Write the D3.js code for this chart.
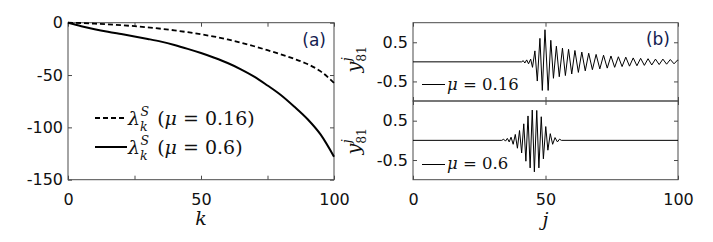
<!DOCTYPE html>
<html>
<head>
<meta charset="utf-8">
<script src="https://cdn.jsdelivr.net/npm/d3@7"></script>
<style>
body { margin: 0; background: #fff; }
svg text { white-space: pre; }
.tick text { font-family: "DejaVu Sans"; font-size: 16px; fill: #111; }
.math text { font-family: "DejaVu Serif"; fill: #111; }
</style>
</head>
<body>
<svg id="fig" width="713" height="242"></svg>
<script>
// panel (a): lambda_k^S against k
var kVals = [0, 5, 10, 15, 20, 25, 30, 35, 40, 45, 50, 55, 60, 65, 70, 75, 80, 85, 90, 95, 100];
var lamMu016 = [0, -0.3, -0.9, -1.6, -2.4, -3.3, -4.5, -5.8, -7.3, -9.1, -11.1, -13.3, -16.0, -19.1, -22.5, -26.3, -30.2, -34.5, -39.5, -46.5, -57.5];
var lamMu06 = [0, -3.3, -6.2, -8.7, -10.9, -13.1, -15.5, -18.1, -21.3, -25, -29, -33.5, -38.5, -44.5, -51.5, -60, -69, -80, -92, -107, -128];

// panel (b): y_81^j against j, zig-zag vertices
var jMu016 = [0, 41, 41.6, 42.2, 42.9, 43.6, 44.4, 45.1, 46.0, 46.9, 47.9, 48.8, 49.8, 51.0, 52.0, 53.0, 54.1, 55.2, 56.4, 57.5, 58.7, 59.9, 61.1, 62.4, 63.7, 65.0, 66.3, 67.7, 69.1, 70.5, 71.9, 73.3, 74.7, 76.1, 77.5, 78.9, 80.3, 81.7, 83.1, 84.5, 85.9, 87.3, 88.7, 90.1, 91.5, 92.9, 94.3, 95.7, 97.1, 98.5, 99.9, 100];
var yMu016 = [0, 0, 0.03, -0.03, 0.05, -0.05, 0.07, -0.14, 0.28, -0.49, 0.6, -0.73, 0.82, -0.73, 0.55, -0.42, 0.4, -0.38, 0.35, -0.35, 0.32, -0.31, 0.29, -0.27, 0.25, -0.23, 0.22, -0.2, 0.19, -0.18, 0.17, -0.16, 0.15, -0.14, 0.13, -0.12, 0.12, -0.11, 0.1, -0.1, 0.09, -0.09, 0.08, -0.08, 0.07, -0.07, 0.07, -0.06, 0.06, -0.05, 0.05, 0.04];
var jMu06 = [0, 33.5, 34.2, 34.9, 35.6, 36.3, 37.0, 37.8, 38.6, 39.4, 40.2, 41.0, 41.8, 42.6, 43.4, 44.2, 45.0, 45.8, 46.7, 47.5, 48.4, 49.2, 50.1, 50.9, 51.8, 52.7, 53.6, 54.5, 55.3, 56.0, 100];
var yMu06 = [0, 0, 0.03, -0.02, 0.05, -0.04, 0.08, -0.1, 0.15, -0.2, 0.25, -0.32, 0.42, -0.53, 0.62, -0.7, 0.77, -0.8, 0.76, -0.7, 0.6, -0.47, 0.35, -0.25, 0.17, -0.1, 0.07, -0.04, 0.03, 0, 0];

var kTicks = [0, 25, 50, 75, 100];
var lamTicks = [0, -50, -100, -150];
var jTicks = [0, 50, 100];
var yTicks = [-0.5, 0.5];

var svg = d3.select('#fig');
var frameColor = '#4a4a4a';

function boxAxes(x, y, xTicks, yTicks, xFmt, yFmt) {
    var yb = y.range()[0], yt = y.range()[1];
    var xl = x.range()[0], xr = x.range()[1];
    var blank = function() { return ''; };
    var parts = [
        [d3.axisBottom(x).tickValues(xTicks).tickPadding(14).tickFormat(xFmt || blank), 0, yb],
        [d3.axisTop(x).tickValues(xTicks).tickFormat(blank), 0, yt],
        [d3.axisLeft(y).tickValues(yTicks).tickPadding(5).tickFormat(yFmt || blank), xl, 0],
        [d3.axisRight(y).tickValues(yTicks).tickFormat(blank), xr, 0]
    ];
    parts.forEach(function(p) {
        var g = svg.append('g')
            .attr('transform', 'translate(' + p[1] + ',' + p[2] + ')')
            .attr('color', frameColor)
            .call(p[0].tickSizeInner(-4).tickSizeOuter(0));
        g.select('.domain').remove();
    });
    svg.append('rect')
        .attr('x', xl).attr('y', yt)
        .attr('width', xr - xl).attr('height', yb - yt)
        .attr('fill', 'none').attr('stroke', frameColor).attr('stroke-width', 1);
}

// ---- panel (a)
var xA = d3.scaleLinear([0, 100], [68, 334]);
var yA = d3.scaleLinear([-150, 0], [179.7, 22.7]);
boxAxes(xA, yA, kTicks, lamTicks, function(d) { return d % 50 === 0 ? d : ''; }, function(d) { return String(d); });

var lineA = d3.line()
    .x(function(d, i) { return xA(kVals[i]); })
    .y(function(d) { return yA(d); })
    .curve(d3.curveMonotoneX);

svg.append('path').attr('d', lineA(lamMu016))
    .attr('fill', 'none').attr('stroke', '#000').attr('stroke-width', 1.8)
    .attr('stroke-dasharray', '5,3');
svg.append('path').attr('d', lineA(lamMu06))
    .attr('fill', 'none').attr('stroke', '#000').attr('stroke-width', 2);

// ---- panel (b)
var xB = d3.scaleLinear([0, 100], [413, 678]);
var yBt = d3.scaleLinear([-1, 1], [101, 22.7]);
var yBb = d3.scaleLinear([-1, 1], [179.7, 101]);
boxAxes(xB, yBt, jTicks, yTicks, null, function(d) { return String(d); });
boxAxes(xB, yBb, jTicks, yTicks, function(d) { return d; }, function(d) { return String(d); });

function wave(js, ys, y) {
    var line = d3.line()
        .x(function(d, i) { return xB(js[i]); })
        .y(function(d) { return y(d); });
    svg.append('path').attr('d', line(ys))
        .attr('fill', 'none').attr('stroke', '#000').attr('stroke-width', 1);
}
wave(jMu016, yMu016, yBt);
wave(jMu06, yMu06, yBb);

// ---- text
var math = svg.append('g').attr('class', 'math');

function textWidth(str, size, italic) {
    var t = math.append('text').style('font-size', size + 'px')
        .style('font-style', italic ? 'italic' : 'normal').text(str);
    var w = t.node().getComputedTextLength();
    t.remove();
    return w;
}

// one text element: base, superscript and subscript stacked, then the rest
function scriptText(parent, x, y, size, base, sup, sub, supItalic, subItalic) {
    var s = size * 0.66;
    var wSup = textWidth(sup, s, supItalic), wSub = textWidth(sub, s, subItalic);
    var t = parent.append('text').attr('x', x).attr('y', y).style('font-size', size + 'px');
    t.append('tspan').style('font-style', 'italic').text(base);
    t.append('tspan').attr('dx', 0.5).attr('dy', -size * 0.45)
        .style('font-size', s + 'px').style('font-style', supItalic ? 'italic' : 'normal').text(sup);
    t.append('tspan').attr('dx', -wSup - 0.5).attr('dy', size * 0.77)
        .style('font-size', s + 'px').style('font-style', subItalic ? 'italic' : 'normal').text(sub);
    return { t: t, extra: Math.max(wSup - wSub, 0) };
}

function lambdaEntry(x, y, size, mu) {
    var r = scriptText(math, x, y, size, 'λ', 'S', 'k', true, true);
    r.t.append('tspan').attr('dx', r.extra + size * 0.45).attr('dy', -size * 0.32).text('(');
    r.t.append('tspan').style('font-style', 'italic').text('μ');
    r.t.append('tspan').text(' = ' + mu + ')');
}

function muEntry(x, y, size, mu) {
    var t = math.append('text').attr('x', x).attr('y', y).style('font-size', size + 'px');
    t.append('tspan').style('font-style', 'italic').text('μ');
    t.append('tspan').text(' = ' + mu);
}

function yLabel(cx, cy, size) {
    var g = math.append('g').attr('transform', 'translate(' + cx + ',' + cy + ') rotate(-90)');
    var total = textWidth('y', size, true) + 0.5 + Math.max(textWidth('j', size * 0.66, true), textWidth('81', size * 0.66, false));
    scriptText(g, -total / 2, 0, size, 'y', 'j', '81', true, false);
}

// legend of (a)
svg.append('line').attr('x1', 95).attr('x2', 127).attr('y1', 118).attr('y2', 118)
    .attr('stroke', '#000').attr('stroke-width', 1.8).attr('stroke-dasharray', '5,3');
svg.append('line').attr('x1', 95).attr('x2', 127).attr('y1', 147).attr('y2', 147)
    .attr('stroke', '#000').attr('stroke-width', 2);
lambdaEntry(128, 125, 19, '0.16');
lambdaEntry(128, 154, 19, '0.6');

// legends of (b)
svg.append('line').attr('x1', 422).attr('x2', 445).attr('y1', 84.5).attr('y2', 84.5)
    .attr('stroke', '#000').attr('stroke-width', 1);
svg.append('line').attr('x1', 422).attr('x2', 445).attr('y1', 164.5).attr('y2', 164.5)
    .attr('stroke', '#000').attr('stroke-width', 1);
muEntry(447, 90, 16.5, '0.16');
muEntry(447, 169, 16.5, '0.6');

// axis labels
math.append('text').attr('x', xA(50)).attr('y', 225).attr('text-anchor', 'middle')
    .style('font-size', '19px').style('font-style', 'italic').text('k');
math.append('text').attr('x', xB(50)).attr('y', 226).attr('text-anchor', 'middle')
    .style('font-size', '19px').style('font-style', 'italic').text('j');
yLabel(360, 59, 19);
yLabel(360, 141, 19);

// panel tags
svg.append('text').attr('x', 326).attr('y', 46).attr('text-anchor', 'end')
    .style('font-family', '"DejaVu Sans"').style('font-size', '17px').style('fill', '#141c50').text('(a)');
svg.append('text').attr('x', 670).attr('y', 45).attr('text-anchor', 'end')
    .style('font-family', '"DejaVu Sans"').style('font-size', '17px').style('fill', '#141c50').text('(b)');
</script>
</body>
</html>
